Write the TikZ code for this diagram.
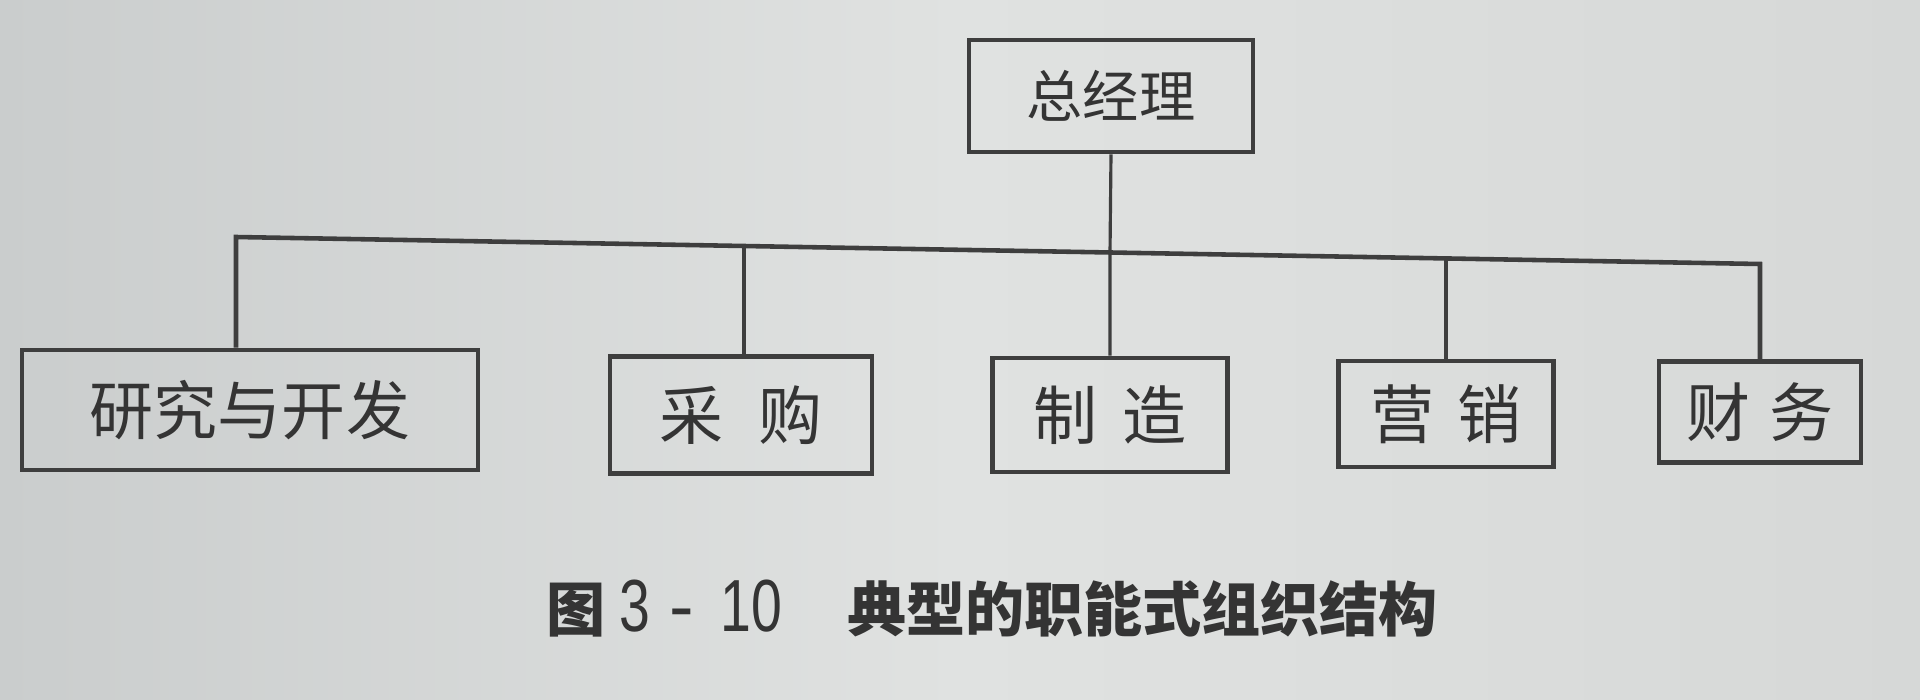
\documentclass[tikz,border=0pt]{standalone}
\usepackage{fontspec}
\usepackage{graphicx}
\usetikzlibrary{calc}
\newfontfamily\cjk{Noto Sans CJK SC}
\newfontfamily\numfont{Liberation Sans}
\definecolor{bgL}{RGB}{202,205,205}
\definecolor{bgM}{RGB}{224,226,225}
\definecolor{bgR}{RGB}{214,216,215}
\definecolor{ink}{RGB}{62,62,62}
\definecolor{txt}{RGB}{52,52,52}
\tikzset{
  orgbox/.style={draw=ink, line width=1.4pt, rectangle, inner sep=0pt,
    font=\cjk\fontsize{18.2pt}{20pt}\selectfont, text=txt},
  link/.style={draw=ink, line width=0.9pt},
  busline/.style={draw=ink, line width=1.3pt},
  caption/.style={font=\cjk\bfseries\fontsize{16.8pt}{20pt}\selectfont, text=txt, inner sep=0pt}
}
\newcommand{\capnum}[1]{{\numfont\mdseries\fontsize{21pt}{22pt}\selectfont\scalebox{0.75}[1]{#1}}}
\newcommand{\capdash}{{\numfont\mdseries\fontsize{21pt}{22pt}\selectfont -}}
\begin{document}
\begin{tikzpicture}[x=0.01cm, y=-0.01cm]
  \useasboundingbox (0,0) rectangle (1920,700);
  \shade[left color=bgL, right color=bgR, middle color=bgM] (0,0) rectangle (1920,700);

  % top box
  \node[orgbox, minimum width=284*0.01cm, minimum height=112*0.01cm,
        font=\cjk\fontsize{16pt}{18pt}\selectfont] (gm) at (1111,96) {总经理};

  % lower boxes
  \node[orgbox, minimum width=456*0.01cm, minimum height=120*0.01cm] (rd) at (250,410) {研究与开发};
  \node[orgbox, minimum width=262*0.01cm, minimum height=117*0.01cm] (cg) at (741,415) {采\hspace{0.55em}购};
  \node[orgbox, minimum width=235*0.01cm, minimum height=114*0.01cm] (zz) at (1110,415) {制\hspace{0.4em}造};
  \node[orgbox, minimum width=215*0.01cm, minimum height=106*0.01cm] (yx) at (1446,414) {营\hspace{0.35em}销};
  \node[orgbox, minimum width=202*0.01cm, minimum height=101*0.01cm] (cw) at (1760,412) {财\hspace{0.3em}务};

  % bus
  \coordinate (busL) at (236,237);
  \coordinate (busR) at (1760,264);
  \coordinate (j2) at ($(busL)!0.3333!(busR)$);
  \coordinate (j3) at ($(busL)!0.5735!(busR)$);
  \coordinate (j4) at ($(busL)!0.7940!(busR)$);

  \draw[busline] (busL |- rd.north) -- (busL) -- (busR) -- (cw.north);
  \draw[link] (gm.south) -- (j3);
  \draw[link] (j3) -- (zz.north);
  \draw[link] (j2) -- (j2 |- cg.north);
  \draw[link] (j4) -- (j4 |- yx.north);

  % caption
  \node[caption] (cap) at (992,609) {图\hspace{4pt}\capnum{3}\hspace{5.5pt}\capdash\hspace{7.5pt}\capnum{10}\hspace{18.5pt}典型的职能式组织结构};
\end{tikzpicture}
\end{document}
